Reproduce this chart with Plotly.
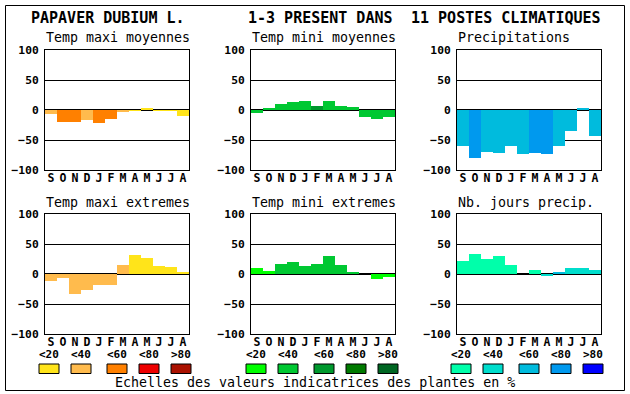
import plotly.graph_objects as go

W, H = 630, 394

# ---------------- data ----------------
months = ["S", "O", "N", "D", "J", "F", "M", "A", "M", "J", "J", "A"]
y_ticks = [-100, -50, 0, 50, 100]
legend_labels = ["<20", "<40", "<60", "<80", ">80"]

title_parts = ["PAPAVER DUBIUM L.", "1-3 PRESENT DANS", "11 POSTES CLIMATIQUES"]
panel_titles = ["Temp maxi moyennes", "Temp mini moyennes", "Precipitations",
                "Temp maxi extremes", "Temp mini extremes", "Nb. jours precip."]
footer = "Echelles des valeurs indicatrices des plantes en %"

tmax_moy = [-7, -20.5, -20.5, -17, -22, -15.5, -3.3, -1.5, 2, -1, -1, -10.5]
tmax_moy_cls = [1, 2, 2, 1, 2, 2, 1, 0, 0, 0, 0, 0]
tmin_moy = [-4.5, 1.7, 10, 13.3, 15, 6.7, 15, 7.2, 5, -12.2, -14.4, -11.1]
tmin_moy_cls = [1, 1, 1, 1, 1, 2, 1, 1, 1, 1, 1, 1]
precip = [-60.5, -80.5, -70.5, -72, -60.5, -74, -72, -74, -60.5, -35.5, 2, -44]
precip_cls = [2, 3, 2, 2, 2, 2, 3, 3, 2, 2, 2, 2]
tmax_ext = [-11, -6, -34, -27, -17.8, -17.8, 15, 31.7, 26.7, 13.3, 11.7, 1.7]
tmax_ext_cls = [1, 1, 1, 1, 1, 1, 1, 0, 0, 0, 0, 0]
tmin_ext = [10, 5, 16.7, 20, 13.3, 16.7, 30, 15, 3.3, 0, -7.8, -5]
tmin_ext_cls = [0, 0, 1, 1, 1, 1, 1, 1, 1, 1, 0, 0]
njours = [22.2, 33.3, 25, 30, 15, 0, 6.7, -2.8, 3.3, 10, 10, 6.7]
njours_cls = [0, 0, 0, 0, 0, 0, 0, 1, 2, 1, 1, 1]

# ---------------- styles ----------------
pal_temp_max = ["#FFE41A", "#FFBB4D", "#FF8000", "#EE0000", "#AA1100"]
pal_temp_min = ["#00FF00", "#00C832", "#00992E", "#007A00", "#006622"]
pal_water = ["#00FFAA", "#00DDCC", "#00BBDD", "#0099EE", "#0000FF"]

series = [
    (tmax_moy, tmax_moy_cls, pal_temp_max),
    (tmin_moy, tmin_moy_cls, pal_temp_min),
    (precip, precip_cls, pal_water),
    (tmax_ext, tmax_ext_cls, pal_temp_max),
    (tmin_ext, tmin_ext_cls, pal_temp_min),
    (njours, njours_cls, pal_water),
]
palettes = [pal_temp_max, pal_temp_min, pal_water]

col_x = [(45, 189), (251, 395), (457, 601)]
row_y = [(50, 170), (214, 334)]

MONO = "DejaVu Sans Mono"


def px(x):
    return x / W


def py(y):
    return 1 - y / H


fig = go.Figure()
layout = dict(
    width=W, height=H, margin=dict(l=0, r=0, t=0, b=0, pad=0, autoexpand=False),
    paper_bgcolor="white", plot_bgcolor="white", showlegend=False,
    bargap=0, annotations=[], shapes=[],
)

for i, (vals, cls, pal) in enumerate(series):
    r, c = divmod(i, 3)
    n = "" if i == 0 else str(i + 1)
    x0, x1 = col_x[c]
    y0, y1 = row_y[r]
    fig.add_trace(go.Bar(
        x=list(range(len(months))), y=vals, width=1,
        marker=dict(color=[pal[k] for k in cls], line=dict(width=0)),
        xaxis="x" + n, yaxis="y" + n, hoverinfo="skip",
    ))
    layout["xaxis" + n] = dict(
        domain=[px(x0), px(x1)], range=[-0.5, 11.5], anchor="y" + n,
        tickvals=list(range(len(months))), ticktext=months,
        tickfont=dict(family=MONO, size=11.5, color="black", weight="bold"),
        ticks="", ticklabelstandoff=-3, showgrid=False, zeroline=False,
        showline=True, mirror=True, linecolor="black", linewidth=1,
        fixedrange=True, automargin=False,
    )
    layout["yaxis" + n] = dict(
        domain=[py(y1), py(y0)], range=[-100, 100], anchor="x" + n,
        tickvals=y_ticks, ticks="", ticklabelstandoff=3,
        tickfont=dict(family=MONO, size=11.3, color="black", weight="bold"),
        showgrid=True, gridcolor="black", gridwidth=1.2,
        zeroline=True, zerolinecolor="black", zerolinewidth=2,
        showline=True, mirror=True, linecolor="black", linewidth=1,
        layer="above traces", fixedrange=True, automargin=False,
    )
    layout["annotations"].append(dict(
        text=panel_titles[i], x=px(x0 - 1), y=py(y0 - 12), xref="paper", yref="paper",
        xanchor="left", yanchor="middle", showarrow=False,
        font=dict(family=MONO, size=13.3, color="black"),
    ))

# main title
for t, xl in zip(title_parts, [30, 247, 410]):
    layout["annotations"].append(dict(
        text=t, x=px(xl - 1), y=py(18), xref="paper", yref="paper",
        xanchor="left", yanchor="middle", showarrow=False,
        font=dict(family=MONO, size=15, color="black", weight="bold"),
    ))

# colour scales
legend_box_x = [[39, 71, 107, 139, 171], [246, 278, 314, 346, 378], [451, 483, 519, 551, 583]]
for pal, xs in zip(palettes, legend_box_x):
    for k, xb in enumerate(xs):
        layout["shapes"].append(dict(
            type="rect", xref="paper", yref="paper",
            x0=px(xb), x1=px(xb + 20), y0=py(373.5), y1=py(364),
            fillcolor=pal[k], line=dict(color="black", width=1),
        ))
        layout["annotations"].append(dict(
            text=legend_labels[k], x=px(xb + 10), y=py(354.5), xref="paper", yref="paper",
            xanchor="center", yanchor="middle", showarrow=False,
            font=dict(family=MONO, size=11, color="black", weight="bold"),
        ))

layout["annotations"].append(dict(
    text=footer, x=px(314.5), y=py(382), xref="paper", yref="paper",
    xanchor="center", yanchor="middle", showarrow=False,
    font=dict(family=MONO, size=13.3, color="black"),
))

# outer frame
layout["shapes"].append(dict(
    type="rect", xref="paper", yref="paper",
    x0=px(5.5), x1=px(624.5), y0=py(390.5), y1=py(5.5),
    line=dict(color="black", width=1), fillcolor="rgba(0,0,0,0)",
))

fig.update_layout(**layout)
fig.write_html(
    "out.html",
    config={"displayModeBar": False},
    post_script=(
        "var s='margin:0;padding:0;overflow:hidden;width:630px;height:394px;';"
        "document.documentElement.style.cssText=s;document.body.style.cssText=s;"
        "var g=document.getElementById('{plot_id}');"
        "g.style.position='fixed';g.style.top='0px';g.style.left='0px';"
    ),
)
